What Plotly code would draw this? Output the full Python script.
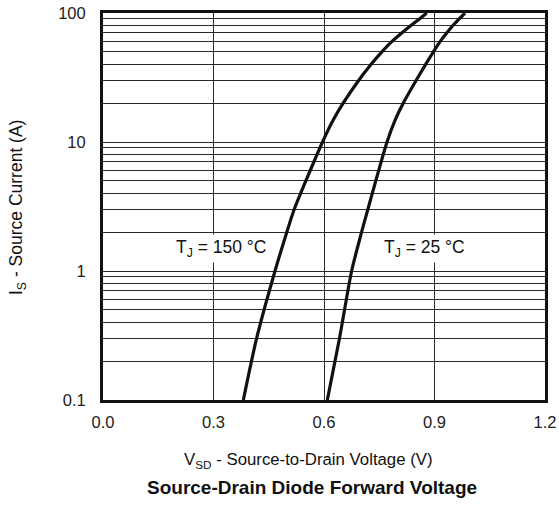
import plotly.graph_objects as go

# Data
i_points = [0.1, 0.3, 1, 2, 3, 10, 14.8, 20, 30, 40, 50, 60, 70, 80, 90, 100]
v_150 = [0.381, 0.417, 0.467, 0.499, 0.519, 0.596, 0.625, 0.652, 0.694, 0.728, 0.757, 0.784, 0.811, 0.836, 0.859, 0.879]
v_25 = [0.609, 0.642, 0.675, 0.702, 0.719, 0.771, 0.793, 0.815, 0.850, 0.876, 0.897, 0.915, 0.933, 0.950, 0.967, 0.983]

x_ticks = [0.0, 0.3, 0.6, 0.9, 1.2]
x_ticktext = ["0.0", "0.3", "0.6", "0.9", "1.2"]
y_grid = [m * 10 ** e for e in (-1, 0, 1) for m in range(1, 10)] + [100]
y_labels = {0.1: "0.1", 1: "1", 10: "10", 100: "100"}
y_ticktext = [y_labels.get(round(v, 6), "") for v in y_grid]

FONT = "Arial, Liberation Sans, sans-serif"

fig = go.Figure()
for v in (v_150, v_25):
    fig.add_trace(go.Scatter(x=v, y=i_points, mode="lines",
                             line=dict(color="#111111", width=3.2, shape="spline", smoothing=0.7),
                             showlegend=False, hoverinfo="skip"))

L, R, T, B = 103, 545, 13, 400
W, H = 559, 505
pw = R - L

axis_common = dict(showgrid=True, gridcolor="#2a2a2a", gridwidth=1.3,
                   showline=True, linecolor="#111111", linewidth=3, mirror=True,
                   ticks="", ticklen=0, zeroline=False, fixedrange=True, automargin=False,
                   tickfont=dict(size=16.5, color="#222222", family=FONT))

fig.update_layout(
    width=W, height=H,
    margin=dict(l=L, r=W - R, t=T, b=H - B, pad=0, autoexpand=False),
    paper_bgcolor="white", plot_bgcolor="white",
    font=dict(family=FONT, size=16, color="#111111"),
    xaxis=dict(range=[0, 1.2], tickvals=x_ticks, ticktext=x_ticktext, **axis_common),
    yaxis=dict(type="log", range=[-1, 2], tickvals=y_grid, ticktext=y_ticktext, **axis_common),
)
fig.update_xaxes(ticklabelstandoff=5)
fig.update_yaxes(ticklabelstandoff=11)

def px_x(p):
    return (p - L) / pw

def px_y(p):
    return (B - p) / (B - T)

ann = [
    dict(text="T<sub>J</sub> = 150 °C", x=221, y=248, size=17.5, bg=True),
    dict(text="T<sub>J</sub> = 25 °C", x=424, y=248, size=17.5, bg=True),
    dict(text="V<sub>SD</sub> - Source-to-Drain Voltage (V)", x=308, y=460, size=16.8, bg=False),
    dict(text="<b>Source-Drain Diode Forward Voltage</b>", x=312, y=487, size=19, bg=False),
]
for a in ann:
    fig.add_annotation(text=a["text"], xref="paper", yref="paper",
                       x=px_x(a["x"]), y=px_y(a["y"]), xanchor="center", yanchor="middle",
                       showarrow=False, font=dict(size=a["size"], color="#111111", family=FONT),
                       bgcolor="white" if a["bg"] else None, borderpad=2)

fig.add_annotation(text="I<sub>S</sub> - Source Current (A)", xref="paper", yref="paper",
                   x=px_x(17), y=px_y(208), xanchor="center", yanchor="middle",
                   textangle=-90, showarrow=False, font=dict(size=17.5, color="#111111", family=FONT))

fig.write_html("out.html")
